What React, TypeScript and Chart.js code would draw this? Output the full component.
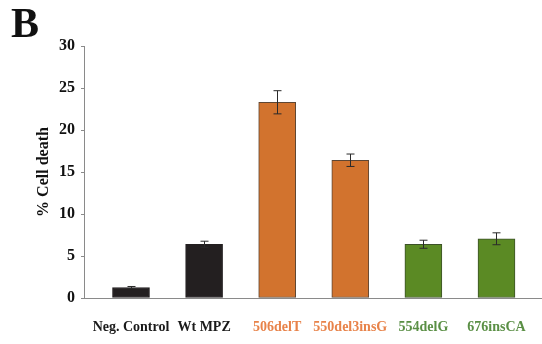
import React, { useEffect, useRef } from "react";
import { Chart, registerables } from "chart.js";

Chart.register(...registerables);

const categories = ["Neg. Control", "Wt MPZ", "506delT", "550del3insG", "554delG", "676insCA"];
const cellDeath = [1.25, 6.4, 23.3, 16.4, 6.4, 7.05];
const errors = [0.12, 0.36, 1.38, 0.74, 0.48, 0.71];
const barColors = ["#231f20", "#231f20", "#d2732e", "#d2732e", "#5b8a24", "#5b8a24"];
const barBorders = ["#231f20", "#231f20", "#5e4633", "#5e4633", "#3c5128", "#3c5128"];
const labelColors = ["#1a1a1a", "#1a1a1a", "#e8834a", "#e8834a", "#5a8f45", "#5a8f45"];
const yTicks = [0, 5, 10, 15, 20, 25, 30];

const errorBarPlugin = {
  id: "errorBars",
  afterDatasetsDraw(chart: any) {
    const meta = chart.getDatasetMeta(0);
    const y = chart.scales.y;
    const ctx = chart.ctx;
    ctx.save();
    ctx.strokeStyle = "#2a2a2a";
    ctx.lineWidth = 1;
    meta.data.forEach((bar: any, i: number) => {
      const x = Math.round(bar.x) + 0.5;
      const yTop = y.getPixelForValue(cellDeath[i] + errors[i]);
      const yBot = y.getPixelForValue(cellDeath[i] - errors[i]);
      ctx.beginPath();
      ctx.moveTo(x, yTop);
      ctx.lineTo(x, yBot);
      ctx.moveTo(x - 4, yTop);
      ctx.lineTo(x + 4, yTop);
      ctx.moveTo(x - 4, yBot);
      ctx.lineTo(x + 4, yBot);
      ctx.stroke();
    });
    ctx.restore();
  },
};

export default function App() {
  const canvasRef = useRef<HTMLCanvasElement | null>(null);

  useEffect(() => {
    if (!canvasRef.current) return;
    Chart.defaults.font.family = "'Liberation Serif', 'Times New Roman', serif";
    const chart = new Chart(canvasRef.current, {
      type: "bar",
      data: {
        datasets: [
          {
            data: cellDeath.map((v, i) => ({ x: i, y: v })),
            backgroundColor: barColors,
            borderColor: barBorders,
            borderWidth: 1,
            borderSkipped: false,
            barThickness: 37,
          },
        ],
      },
      options: {
        responsive: false,
        animation: false,
        layout: { padding: { top: 46, right: 1, left: 0, bottom: 0 } },
        plugins: {
          legend: { display: false },
          tooltip: { enabled: false },
        },
        scales: {
          x: {
            type: "linear",
            offset: false,
            min: -0.643,
            max: 5.609,
            afterBuildTicks: (scale: any) => {
              scale.ticks = categories.map((_, i) => ({ value: i }));
            },
            afterFit: (scale: any) => {
              scale.height = 46;
              scale.paddingLeft = 0;
              scale.paddingRight = 0;
            },
            grid: { display: false, drawTicks: false, tickLength: 0 },
            border: { display: true, color: "#8a8a8a", width: 1 },
            ticks: {
              autoSkip: false,
              maxRotation: 0,
              minRotation: 0,
              padding: 21,
              font: { size: 14, weight: "bold" },
              color: (ctx: any) => labelColors[ctx.index] || "#000",
              callback: (value: any) => categories[value] ?? "",
            },
          },
          y: {
            min: 0,
            max: 30,
            afterBuildTicks: (scale: any) => {
              scale.ticks = yTicks.map((v) => ({ value: v }));
            },
            afterFit: (scale: any) => {
              scale.width = 84;
            },
            grid: { drawOnChartArea: false, drawTicks: true, tickLength: 3, color: "#8a8a8a" },
            border: { display: true, color: "#8a8a8a", width: 1 },
            ticks: {
              padding: 6,
              font: { size: 16, weight: "bold" },
              color: "#111",
            },
            title: {
              display: true,
              text: "% Cell death",
              color: "#111",
              font: { size: 16, weight: "bold" },
              padding: { top: 34, bottom: 0 },
            },
          },
        },
      },
      plugins: [errorBarPlugin],
    } as any);
    return () => chart.destroy();
  }, []);

  return (
    <div style={{ position: "fixed", left: 0, top: 0, width: 542, height: 344, background: "#fff" }}>
      <canvas ref={canvasRef} width={542} height={344} style={{ position: "absolute", left: 0, top: 0 }} />
      <div
        style={{
          position: "absolute",
          left: 11,
          top: 2,
          fontFamily: "'Liberation Serif', 'Times New Roman', serif",
          fontWeight: "bold",
          fontSize: 42,
          lineHeight: "42px",
          color: "#111",
        }}
      >
        B
      </div>
    </div>
  );
}
